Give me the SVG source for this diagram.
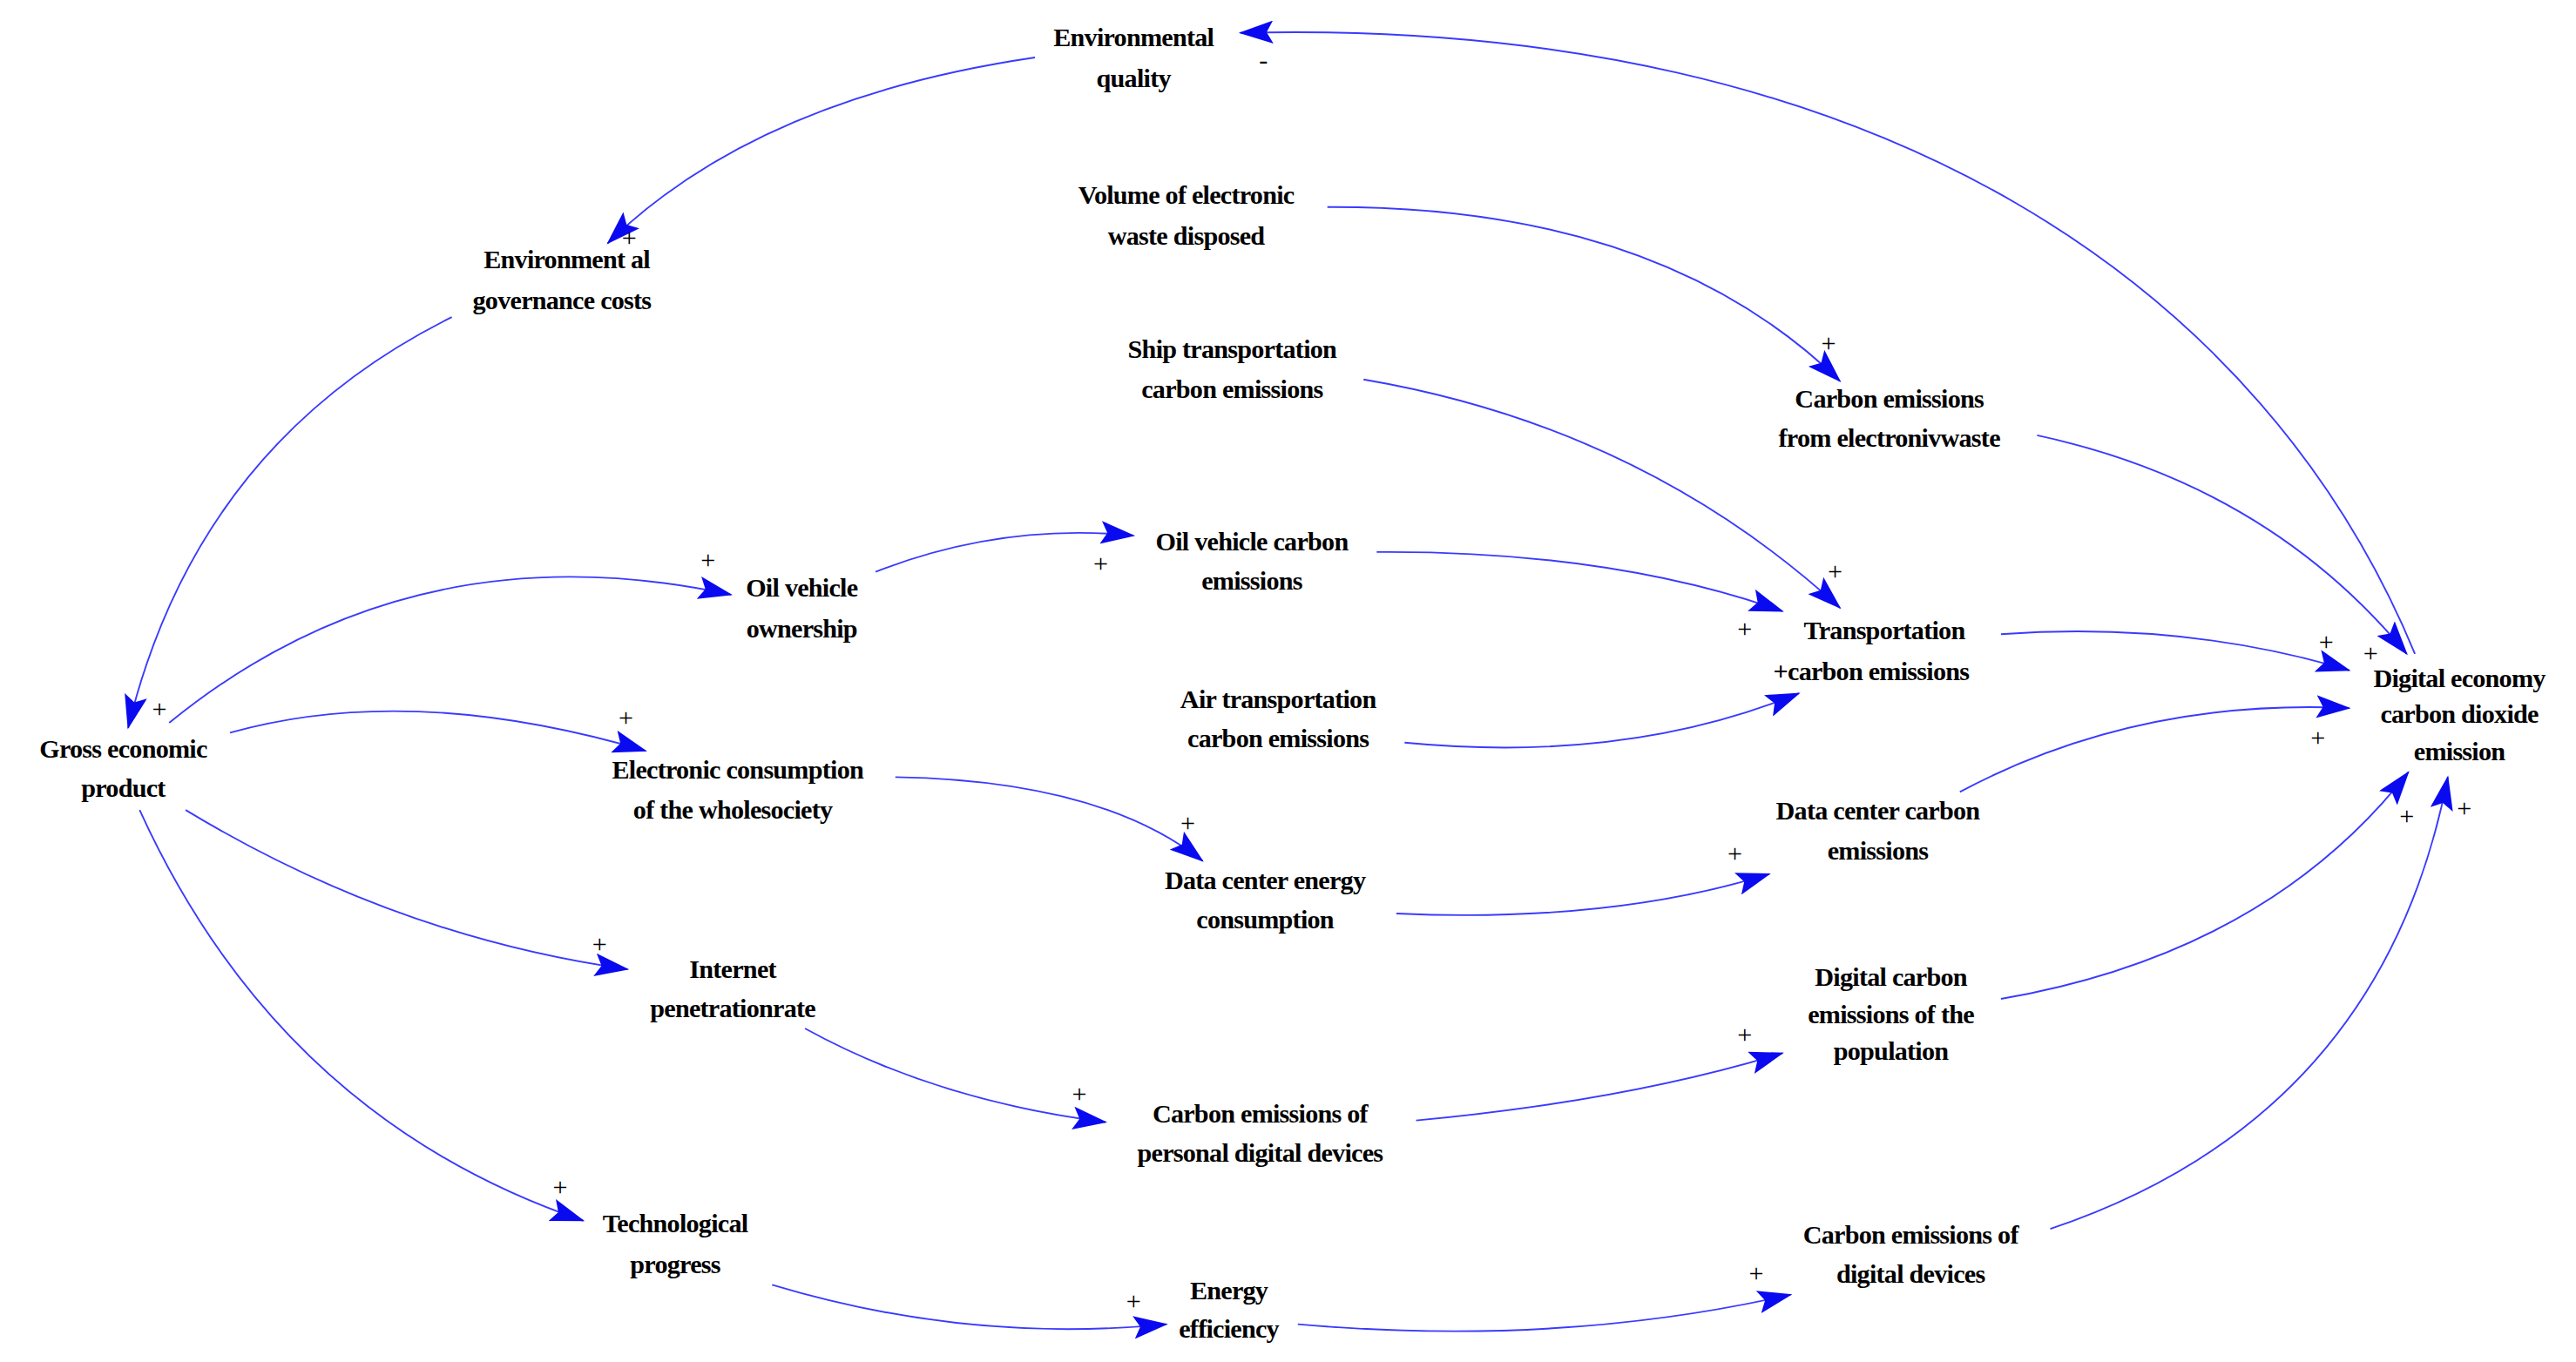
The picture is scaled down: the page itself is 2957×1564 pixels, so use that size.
<svg xmlns="http://www.w3.org/2000/svg" width="2957" height="1564" viewBox="0 0 2957 1564">
<style>
text{font-family:"Liberation Serif","Times New Roman",serif;font-weight:bold;font-size:16px;letter-spacing:-0.4px;fill:#000;text-anchor:middle}
.p{font-weight:normal;font-size:16px;letter-spacing:0}
.c{fill:none;stroke:#3a3aff;stroke-width:1}
</style>
<defs><marker id="a" markerUnits="userSpaceOnUse" markerWidth="22" markerHeight="14" refX="20" refY="7" orient="auto"><path d="M0,0 L21,7 L0,14 L4,7 Z" fill="#0a0af0"/></marker></defs>
<rect width="2957" height="1564" fill="#fff"/>
<g transform="scale(1.8858,1.8866)">
<g id="connectors" marker-end="url(#a)">
<path class="c" d="M1470,398 C1380,180 1150,10 755,20"/>
<path class="c" d="M630,35 Q460,60 370,148"/>
<path class="c" d="M275,193 Q120,270 78,443"/>
<path class="c" d="M103,440 Q250,320 445,362"/>
<path class="c" d="M533,348 Q610,318 690,326"/>
<path class="c" d="M838,336 Q980,335 1085,372"/>
<path class="c" d="M830,231 Q1000,260 1120,370"/>
<path class="c" d="M855,452 Q990,465 1095,422"/>
<path class="c" d="M808,126 Q1010,125 1120,232"/>
<path class="c" d="M1240,265 Q1380,295 1465,398"/>
<path class="c" d="M1218,386 Q1330,378 1430,408"/>
<path class="c" d="M1193,482 Q1300,425 1430,431"/>
<path class="c" d="M1218,608 Q1380,580 1466,470"/>
<path class="c" d="M1248,748 Q1450,680 1490,473"/>
<path class="c" d="M140,446 Q250,415 393,457"/>
<path class="c" d="M545,473 Q670,475 732,524"/>
<path class="c" d="M850,556 Q980,562 1077,532"/>
<path class="c" d="M113,493 Q240,570 382,590"/>
<path class="c" d="M490,626 Q570,670 673,683"/>
<path class="c" d="M862,682 Q990,670 1085,641"/>
<path class="c" d="M85,493 Q170,680 355,743"/>
<path class="c" d="M470,782 Q590,818 710,806"/>
<path class="c" d="M790,806 Q950,820 1090,788"/>
</g>
<g id="signs">
<text class="p" x="769" y="42">-</text>
<text class="p" x="97" y="437">+</text><text class="p" x="383" y="150">+</text>
<text class="p" x="431" y="346">+</text><text class="p" x="670" y="348">+</text>
<text class="p" x="381" y="442">+</text><text class="p" x="723" y="506">+</text>
<text class="p" x="365" y="580">+</text><text class="p" x="657" y="671">+</text>
<text class="p" x="341" y="728">+</text><text class="p" x="690" y="797">+</text>
<text class="p" x="1113" y="214">+</text><text class="p" x="1117" y="353">+</text>
<text class="p" x="1062" y="388">+</text><text class="p" x="1056" y="525">+</text>
<text class="p" x="1062" y="635">+</text><text class="p" x="1069" y="780">+</text>
<text class="p" x="1416" y="396">+</text><text class="p" x="1443" y="403">+</text>
<text class="p" x="1411" y="454">+</text><text class="p" x="1465" y="502">+</text>
<text class="p" x="1500" y="497">+</text>
</g>
<g id="n-envq"><text x="690" y="28">Environmental</text><text x="690" y="53">quality</text></g>
<g id="n-envg"><text x="345" y="163">Environment al</text><text x="342" y="188">governance costs</text></g>
<g id="n-vol"><text x="722" y="124">Volume of electronic</text><text x="722" y="149">waste disposed</text></g>
<g id="n-ship"><text x="750" y="218">Ship transportation</text><text x="750" y="242">carbon emissions</text></g>
<g id="n-ew"><text x="1150" y="248">Carbon emissions</text><text x="1150" y="272">from electronivwaste</text></g>
<g id="n-ovc"><text x="762" y="335">Oil vehicle carbon</text><text x="762" y="359">emissions</text></g>
<g id="n-ovo"><text x="488" y="363">Oil vehicle</text><text x="488" y="388">ownership</text></g>
<g id="n-tr"><text x="1147" y="389">Transportation</text><text x="1139" y="414">+carbon emissions</text></g>
<g id="n-air"><text x="778" y="431">Air transportation</text><text x="778" y="455">carbon emissions</text></g>
<g id="n-dig"><text x="1497" y="418">Digital economy</text><text x="1497" y="440">carbon dioxide</text><text x="1497" y="463">emission</text></g>
<g id="n-gdp"><text x="75" y="461">Gross economic</text><text x="75" y="485">product</text></g>
<g id="n-ec"><text x="449" y="474">Electronic consumption</text><text x="446" y="498">of the wholesociety</text></g>
<g id="n-dcc"><text x="1143" y="499">Data center carbon</text><text x="1143" y="523">emissions</text></g>
<g id="n-dce"><text x="770" y="541">Data center energy</text><text x="770" y="565">consumption</text></g>
<g id="n-int"><text x="446" y="595">Internet</text><text x="446" y="619">penetrationrate</text></g>
<g id="n-dcp"><text x="1151" y="600">Digital carbon</text><text x="1151" y="623">emissions of the</text><text x="1151" y="645">population</text></g>
<g id="n-pdd"><text x="767" y="683">Carbon emissions of</text><text x="767" y="707">personal digital devices</text></g>
<g id="n-tech"><text x="411" y="750">Technological</text><text x="411" y="775">progress</text></g>
<g id="n-ee"><text x="748" y="791">Energy</text><text x="748" y="814">efficiency</text></g>
<g id="n-dd"><text x="1163" y="757">Carbon emissions of</text><text x="1163" y="781">digital devices</text></g>
</g>
</svg>
